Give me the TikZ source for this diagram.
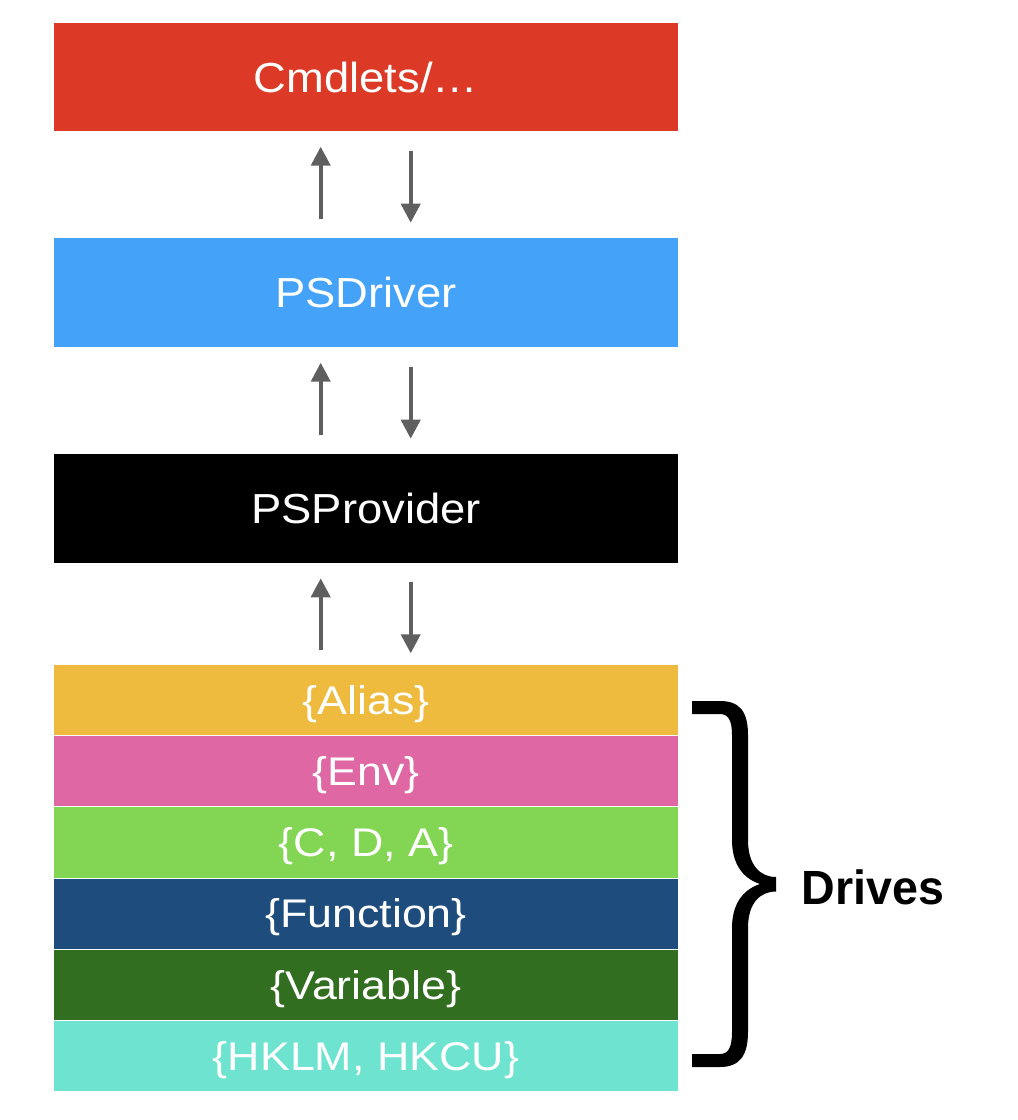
\documentclass[tikz,border=0pt]{standalone}
\usepackage{fontspec}
\usetikzlibrary{arrows.meta}
\newfontfamily\boxfont{Liberation Sans}[FakeStretch=1.08]
\newfontfamily\stackfont{Liberation Sans}[FakeStretch=1.12]
\newfontfamily\drivesfont{Liberation Sans}[FakeStretch=0.97]
\definecolor{cRed}{HTML}{DC3A26}
\definecolor{cBlue}{HTML}{44A3F8}
\definecolor{cYellow}{HTML}{EFBB3E}
\definecolor{cPink}{HTML}{DF68A4}
\definecolor{cGreen}{HTML}{83D653}
\definecolor{cNavy}{HTML}{1E4C7C}
\definecolor{cDkGreen}{HTML}{316E1F}
\definecolor{cCyan}{HTML}{6DE3D0}
\definecolor{cArrow}{HTML}{5F5F5F}
\tikzset{
  layerbox/.style={rectangle, inner sep=0pt, outer sep=0pt, minimum width=624pt,
    minimum height=108.5pt, text=white, text height=30pt, text depth=0pt,
    font=\boxfont\fontsize{42}{50}\selectfont},
  rowbox/.style={rectangle, inner sep=0pt, outer sep=0pt, minimum width=624pt,
    minimum height=70.2pt, text=white, text height=28.5pt, text depth=0pt,
    font=\stackfont\fontsize{40}{48}\selectfont},
  flow/.style={draw=cArrow, line width=4pt, -{Triangle[width=19pt,length=19pt]}},
}
\begin{document}
\begin{tikzpicture}[x=1pt,y=-1pt]
\useasboundingbox (0,0) rectangle (1018,1120);
\node[layerbox, fill=cRed] (cmd) at (366,77) {Cmdlets/\ldots};
\node[layerbox, fill=cBlue] (drv) at (366,292.5) {PSDriver};
\node[layerbox, fill=black] (prv) at (366,508.4) {PSProvider};
\node[rowbox, fill=cYellow] (alias) at (366,700.1) {\{Alias\}};
\node[rowbox, fill=cPink] (env) at (366,771.3) {\{Env\}};
\node[rowbox, fill=cGreen] (fs) at (366,842.5) {\{C, D, A\}};
\node[rowbox, fill=cNavy] (func) at (366,913.7) {\{Function\}};
\node[rowbox, fill=cDkGreen] (var) at (366,984.9) {\{Variable\}};
\node[rowbox, fill=cCyan] (reg) at (366,1056.1) {\{HKLM, HKCU\}};
% arrow end points
\coordinate (u1s) at (320.7,219);   \coordinate (u1e) at (320.7,146.7);
\coordinate (d1s) at (410.7,150.7); \coordinate (d1e) at (410.7,222.7);
\coordinate (u2s) at (320.7,435);   \coordinate (u2e) at (320.7,362.7);
\coordinate (d2s) at (410.7,366.5); \coordinate (d2e) at (410.7,438.7);
\coordinate (u3s) at (320.7,650);   \coordinate (u3e) at (320.7,578.3);
\coordinate (d3s) at (410.7,581.7); \coordinate (d3e) at (410.7,653.3);
\draw[flow] (u1s) -- (u1e);
\draw[flow] (d1s) -- (d1e);
\draw[flow] (u2s) -- (u2e);
\draw[flow] (d2s) -- (d2e);
\draw[flow] (u3s) -- (u3e);
\draw[flow] (d3s) -- (d3e);
% brace
\fill[black] (692,701) -- (720,701) .. controls (740,701) and (748,712) .. (748,735)
  -- (748,840) .. controls (748,865) and (760,877) .. (776,877)
  -- (776,891.5) .. controls (760,891.5) and (748,903) .. (748,928)
  -- (748,1032) .. controls (748,1055) and (740,1067) .. (720,1067)
  -- (692,1067) -- (692,1054) -- (720,1054) .. controls (728,1054) and (732,1048) .. (732,1032)
  -- (732,928) .. controls (732,905) and (742,890) .. (760,884)
  .. controls (742,878) and (732,863) .. (732,840)
  -- (732,735) .. controls (732,720) and (728,714) .. (720,714)
  -- (692,714) -- cycle;
\node[anchor=base west, inner sep=0pt, font=\drivesfont\bfseries\fontsize{48}{56}\selectfont] (drives) at (801.5,904) {Drives};
\end{tikzpicture}
\end{document}
